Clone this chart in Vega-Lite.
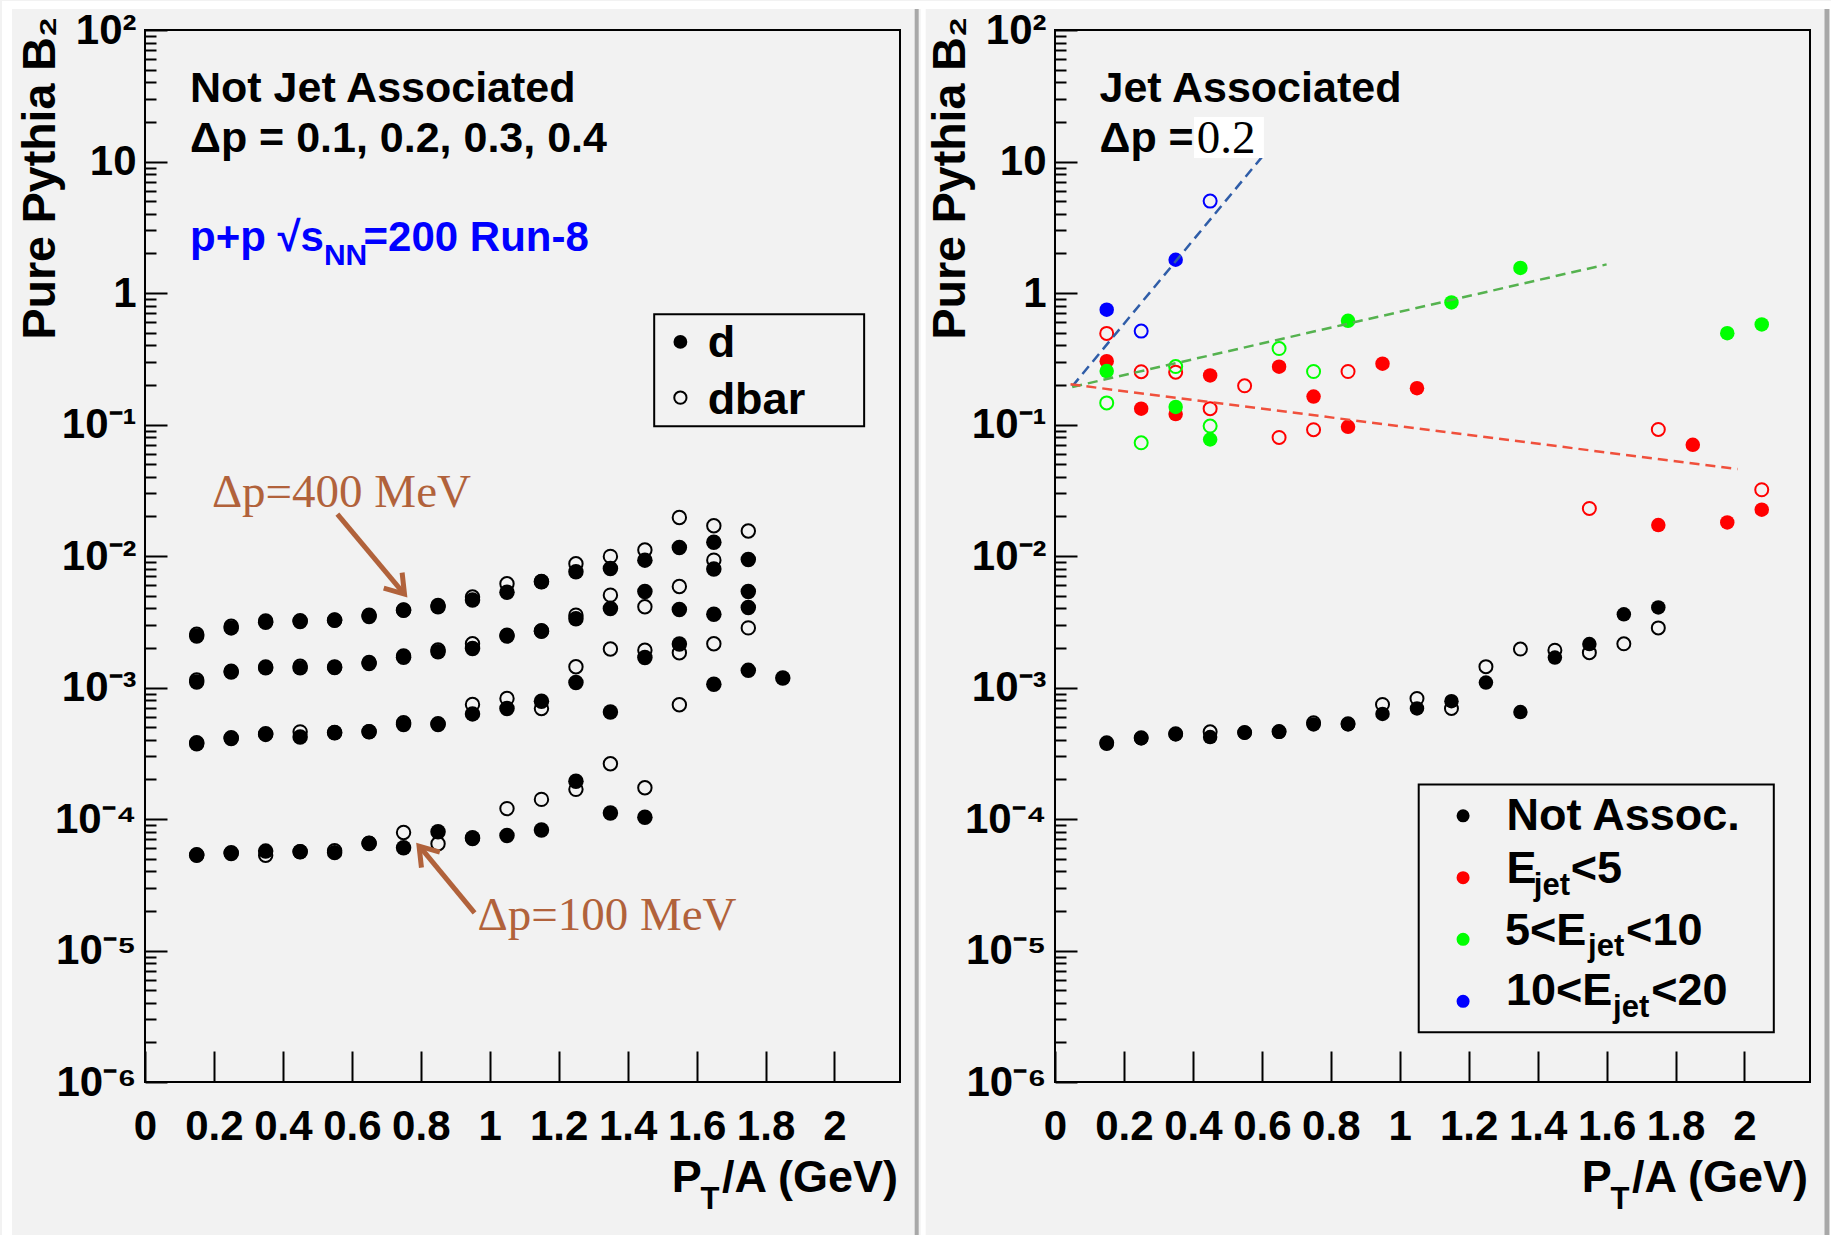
{
  "$schema": "https://vega.github.io/schema/vega-lite/v6.json",
  "background": "#f2f2f2",
  "padding": {"left": 0, "top": 0, "right": 0, "bottom": 0},
  "autosize": {"type": "pad"},
  "bounds": "flush",
  "spacing": 155,
  "config": {
    "view": {"stroke": "black", "strokeWidth": 2, "fill": "#f2f2f2"},
    "axis": {"domain": false, "grid": false, "labelFont": "Liberation Sans", "labelFontWeight": "bold", "labelFontSize": 42, "labelColor": "black", "tickColor": "black", "tickWidth": 2, "labelOverlap": false, "labelFlush": false, "labelBound": false, "titleFont": "Liberation Sans", "titleFontWeight": "bold", "titleColor": "black"},
    "axisX": {"labelPadding": 55},
    "axisY": {"labelPadding": 31}
  },
  "datasets": {
    "left": [
      {"x":0.15,"v":0.00254,"dp":"0.4","t":"dbar"},{"x":0.25,"v":0.00292,"dp":"0.4","t":"dbar"},{"x":0.35,"v":0.0032,"dp":"0.4","t":"dbar"},{"x":0.45,"v":0.00322,"dp":"0.4","t":"dbar"},{"x":0.55,"v":0.00326,"dp":"0.4","t":"dbar"},{"x":0.65,"v":0.00355,"dp":"0.4","t":"dbar"},{"x":0.75,"v":0.00388,"dp":"0.4","t":"dbar"},{"x":0.85,"v":0.0042,"dp":"0.4","t":"dbar"},{"x":0.95,"v":0.00488,"dp":"0.4","t":"dbar"},{"x":1.05,"v":0.00615,"dp":"0.4","t":"dbar"},{"x":1.15,"v":0.0064,"dp":"0.4","t":"dbar"},{"x":1.25,"v":0.00873,"dp":"0.4","t":"dbar"},{"x":1.35,"v":0.00993,"dp":"0.4","t":"dbar"},{"x":1.45,"v":0.0111,"dp":"0.4","t":"dbar"},{"x":1.55,"v":0.0196,"dp":"0.4","t":"dbar"},{"x":1.65,"v":0.017,"dp":"0.4","t":"dbar"},{"x":1.75,"v":0.0155,"dp":"0.4","t":"dbar"},
      {"x":0.15,"v":0.00246,"dp":"0.4","t":"d"},{"x":0.25,"v":0.00284,"dp":"0.4","t":"d"},{"x":0.35,"v":0.00314,"dp":"0.4","t":"d"},{"x":0.45,"v":0.00318,"dp":"0.4","t":"d"},{"x":0.55,"v":0.00324,"dp":"0.4","t":"d"},{"x":0.65,"v":0.00347,"dp":"0.4","t":"d"},{"x":0.75,"v":0.00386,"dp":"0.4","t":"d"},{"x":0.85,"v":0.00411,"dp":"0.4","t":"d"},{"x":0.95,"v":0.00462,"dp":"0.4","t":"d"},{"x":1.05,"v":0.00531,"dp":"0.4","t":"d"},{"x":1.15,"v":0.00637,"dp":"0.4","t":"d"},{"x":1.25,"v":0.00759,"dp":"0.4","t":"d"},{"x":1.35,"v":0.00804,"dp":"0.4","t":"d"},{"x":1.45,"v":0.0093,"dp":"0.4","t":"d"},{"x":1.55,"v":0.0116,"dp":"0.4","t":"d"},{"x":1.65,"v":0.0127,"dp":"0.4","t":"d"},{"x":1.75,"v":0.00942,"dp":"0.4","t":"d"},
      {"x":0.15,"v":0.00114,"dp":"0.3","t":"dbar"},{"x":0.25,"v":0.00133,"dp":"0.3","t":"dbar"},{"x":0.35,"v":0.00143,"dp":"0.3","t":"dbar"},{"x":0.45,"v":0.00145,"dp":"0.3","t":"dbar"},{"x":0.55,"v":0.00142,"dp":"0.3","t":"dbar"},{"x":0.65,"v":0.00155,"dp":"0.3","t":"dbar"},{"x":0.75,"v":0.00174,"dp":"0.3","t":"dbar"},{"x":0.85,"v":0.00193,"dp":"0.3","t":"dbar"},{"x":0.95,"v":0.00215,"dp":"0.3","t":"dbar"},{"x":1.05,"v":0.0025,"dp":"0.3","t":"dbar"},{"x":1.15,"v":0.0027,"dp":"0.3","t":"dbar"},{"x":1.25,"v":0.00355,"dp":"0.3","t":"dbar"},{"x":1.35,"v":0.00504,"dp":"0.3","t":"dbar"},{"x":1.45,"v":0.00411,"dp":"0.3","t":"dbar"},{"x":1.55,"v":0.00586,"dp":"0.3","t":"dbar"},{"x":1.65,"v":0.0093,"dp":"0.3","t":"dbar"},
      {"x":0.15,"v":0.0011,"dp":"0.3","t":"d"},{"x":0.25,"v":0.00131,"dp":"0.3","t":"d"},{"x":0.35,"v":0.00141,"dp":"0.3","t":"d"},{"x":0.45,"v":0.00141,"dp":"0.3","t":"d"},{"x":0.55,"v":0.00143,"dp":"0.3","t":"d"},{"x":0.65,"v":0.00152,"dp":"0.3","t":"d"},{"x":0.75,"v":0.0017,"dp":"0.3","t":"d"},{"x":0.85,"v":0.00187,"dp":"0.3","t":"d"},{"x":0.95,"v":0.00198,"dp":"0.3","t":"d"},{"x":1.05,"v":0.00246,"dp":"0.3","t":"d"},{"x":1.15,"v":0.00268,"dp":"0.3","t":"d"},{"x":1.25,"v":0.00333,"dp":"0.3","t":"d"},{"x":1.35,"v":0.00399,"dp":"0.3","t":"d"},{"x":1.45,"v":0.00537,"dp":"0.3","t":"d"},{"x":1.55,"v":0.00392,"dp":"0.3","t":"d"},{"x":1.65,"v":0.00795,"dp":"0.3","t":"d"},{"x":1.75,"v":0.00537,"dp":"0.3","t":"d"},
      {"x":0.15,"v":0.00038,"dp":"0.2","t":"dbar"},{"x":0.25,"v":0.000415,"dp":"0.2","t":"dbar"},{"x":0.35,"v":0.000445,"dp":"0.2","t":"dbar"},{"x":0.45,"v":0.00046,"dp":"0.2","t":"dbar"},{"x":0.55,"v":0.000455,"dp":"0.2","t":"dbar"},{"x":0.65,"v":0.000462,"dp":"0.2","t":"dbar"},{"x":0.75,"v":0.00054,"dp":"0.2","t":"dbar"},{"x":0.85,"v":0.00053,"dp":"0.2","t":"dbar"},{"x":0.95,"v":0.000743,"dp":"0.2","t":"dbar"},{"x":1.05,"v":0.000825,"dp":"0.2","t":"dbar"},{"x":1.15,"v":0.000693,"dp":"0.2","t":"dbar"},{"x":1.25,"v":0.00144,"dp":"0.2","t":"dbar"},{"x":1.35,"v":0.00196,"dp":"0.2","t":"dbar"},{"x":1.45,"v":0.00192,"dp":"0.2","t":"dbar"},{"x":1.55,"v":0.00184,"dp":"0.2","t":"dbar"},{"x":1.65,"v":0.00215,"dp":"0.2","t":"dbar"},{"x":1.75,"v":0.00284,"dp":"0.2","t":"dbar"},
      {"x":0.15,"v":0.000373,"dp":"0.2","t":"d"},{"x":0.25,"v":0.00041,"dp":"0.2","t":"d"},{"x":0.35,"v":0.00044,"dp":"0.2","t":"d"},{"x":0.45,"v":0.00042,"dp":"0.2","t":"d"},{"x":0.55,"v":0.000453,"dp":"0.2","t":"d"},{"x":0.65,"v":0.00046,"dp":"0.2","t":"d"},{"x":0.75,"v":0.000524,"dp":"0.2","t":"d"},{"x":0.85,"v":0.000524,"dp":"0.2","t":"d"},{"x":0.95,"v":0.00063,"dp":"0.2","t":"d"},{"x":1.05,"v":0.000693,"dp":"0.2","t":"d"},{"x":1.15,"v":0.000787,"dp":"0.2","t":"d"},{"x":1.25,"v":0.00109,"dp":"0.2","t":"d"},{"x":1.35,"v":0.00065,"dp":"0.2","t":"d"},{"x":1.45,"v":0.00169,"dp":"0.2","t":"d"},{"x":1.55,"v":0.00214,"dp":"0.2","t":"d"},{"x":1.65,"v":0.0036,"dp":"0.2","t":"d"},{"x":1.75,"v":0.00406,"dp":"0.2","t":"d"},
      {"x":0.15,"v":0.0000535,"dp":"0.1","t":"dbar"},{"x":0.25,"v":0.0000555,"dp":"0.1","t":"dbar"},{"x":0.35,"v":0.000053,"dp":"0.1","t":"dbar"},{"x":0.45,"v":0.0000565,"dp":"0.1","t":"dbar"},{"x":0.55,"v":0.0000575,"dp":"0.1","t":"dbar"},{"x":0.65,"v":0.0000655,"dp":"0.1","t":"dbar"},{"x":0.75,"v":0.000079,"dp":"0.1","t":"dbar"},{"x":0.85,"v":0.0000648,"dp":"0.1","t":"dbar"},{"x":0.95,"v":0.000071,"dp":"0.1","t":"dbar"},{"x":1.05,"v":0.00012,"dp":"0.1","t":"dbar"},{"x":1.15,"v":0.000141,"dp":"0.1","t":"dbar"},{"x":1.25,"v":0.000168,"dp":"0.1","t":"dbar"},{"x":1.35,"v":0.000263,"dp":"0.1","t":"dbar"},{"x":1.45,"v":0.000173,"dp":"0.1","t":"dbar"},{"x":1.55,"v":0.000739,"dp":"0.1","t":"dbar"},
      {"x":0.15,"v":0.0000529,"dp":"0.1","t":"d"},{"x":0.25,"v":0.0000547,"dp":"0.1","t":"d"},{"x":0.35,"v":0.000057,"dp":"0.1","t":"d"},{"x":0.45,"v":0.0000563,"dp":"0.1","t":"d"},{"x":0.55,"v":0.0000555,"dp":"0.1","t":"d"},{"x":0.65,"v":0.0000652,"dp":"0.1","t":"d"},{"x":0.75,"v":0.0000604,"dp":"0.1","t":"d"},{"x":0.85,"v":0.00008,"dp":"0.1","t":"d"},{"x":0.95,"v":0.000072,"dp":"0.1","t":"d"},{"x":1.05,"v":0.000075,"dp":"0.1","t":"d"},{"x":1.15,"v":0.0000824,"dp":"0.1","t":"d"},{"x":1.25,"v":0.000194,"dp":"0.1","t":"d"},{"x":1.35,"v":0.000111,"dp":"0.1","t":"d"},{"x":1.45,"v":0.000103,"dp":"0.1","t":"d"},{"x":1.65,"v":0.00106,"dp":"0.1","t":"d"},{"x":1.75,"v":0.00135,"dp":"0.1","t":"d"},{"x":1.85,"v":0.00118,"dp":"0.1","t":"d"}
    ],
    "right": [
      {"x":0.15,"v":0.00038,"cat":"Not Assoc.","t":"dbar"},{"x":0.25,"v":0.000415,"cat":"Not Assoc.","t":"dbar"},{"x":0.35,"v":0.000445,"cat":"Not Assoc.","t":"dbar"},{"x":0.45,"v":0.00046,"cat":"Not Assoc.","t":"dbar"},{"x":0.55,"v":0.000455,"cat":"Not Assoc.","t":"dbar"},{"x":0.65,"v":0.000462,"cat":"Not Assoc.","t":"dbar"},{"x":0.75,"v":0.00054,"cat":"Not Assoc.","t":"dbar"},{"x":0.85,"v":0.00053,"cat":"Not Assoc.","t":"dbar"},{"x":0.95,"v":0.000743,"cat":"Not Assoc.","t":"dbar"},{"x":1.05,"v":0.000825,"cat":"Not Assoc.","t":"dbar"},{"x":1.15,"v":0.000693,"cat":"Not Assoc.","t":"dbar"},{"x":1.25,"v":0.00144,"cat":"Not Assoc.","t":"dbar"},{"x":1.35,"v":0.00196,"cat":"Not Assoc.","t":"dbar"},{"x":1.45,"v":0.00192,"cat":"Not Assoc.","t":"dbar"},{"x":1.55,"v":0.00184,"cat":"Not Assoc.","t":"dbar"},{"x":1.65,"v":0.00215,"cat":"Not Assoc.","t":"dbar"},{"x":1.75,"v":0.00284,"cat":"Not Assoc.","t":"dbar"},
      {"x":0.15,"v":0.000373,"cat":"Not Assoc.","t":"d"},{"x":0.25,"v":0.00041,"cat":"Not Assoc.","t":"d"},{"x":0.35,"v":0.00044,"cat":"Not Assoc.","t":"d"},{"x":0.45,"v":0.00042,"cat":"Not Assoc.","t":"d"},{"x":0.55,"v":0.000453,"cat":"Not Assoc.","t":"d"},{"x":0.65,"v":0.00046,"cat":"Not Assoc.","t":"d"},{"x":0.75,"v":0.000524,"cat":"Not Assoc.","t":"d"},{"x":0.85,"v":0.000524,"cat":"Not Assoc.","t":"d"},{"x":0.95,"v":0.00063,"cat":"Not Assoc.","t":"d"},{"x":1.05,"v":0.000693,"cat":"Not Assoc.","t":"d"},{"x":1.15,"v":0.000787,"cat":"Not Assoc.","t":"d"},{"x":1.25,"v":0.00109,"cat":"Not Assoc.","t":"d"},{"x":1.35,"v":0.00065,"cat":"Not Assoc.","t":"d"},{"x":1.45,"v":0.00169,"cat":"Not Assoc.","t":"d"},{"x":1.55,"v":0.00214,"cat":"Not Assoc.","t":"d"},{"x":1.65,"v":0.0036,"cat":"Not Assoc.","t":"d"},{"x":1.75,"v":0.00406,"cat":"Not Assoc.","t":"d"},
      {"x":0.15,"v":0.493,"cat":"Ejet<5","t":"dbar"},{"x":0.25,"v":0.252,"cat":"Ejet<5","t":"dbar"},{"x":0.35,"v":0.25,"cat":"Ejet<5","t":"dbar"},{"x":0.45,"v":0.132,"cat":"Ejet<5","t":"dbar"},{"x":0.55,"v":0.197,"cat":"Ejet<5","t":"dbar"},{"x":0.65,"v":0.0797,"cat":"Ejet<5","t":"dbar"},{"x":0.75,"v":0.0913,"cat":"Ejet<5","t":"dbar"},{"x":0.85,"v":0.253,"cat":"Ejet<5","t":"dbar"},{"x":1.55,"v":0.023,"cat":"Ejet<5","t":"dbar"},{"x":1.75,"v":0.0917,"cat":"Ejet<5","t":"dbar"},{"x":2.05,"v":0.0319,"cat":"Ejet<5","t":"dbar"},
      {"x":0.15,"v":0.303,"cat":"Ejet<5","t":"d"},{"x":0.25,"v":0.132,"cat":"Ejet<5","t":"d"},{"x":0.35,"v":0.12,"cat":"Ejet<5","t":"d"},{"x":0.45,"v":0.236,"cat":"Ejet<5","t":"d"},{"x":0.65,"v":0.275,"cat":"Ejet<5","t":"d"},{"x":0.75,"v":0.163,"cat":"Ejet<5","t":"d"},{"x":0.85,"v":0.0961,"cat":"Ejet<5","t":"d"},{"x":0.95,"v":0.29,"cat":"Ejet<5","t":"d"},{"x":1.05,"v":0.189,"cat":"Ejet<5","t":"d"},{"x":1.75,"v":0.0172,"cat":"Ejet<5","t":"d"},{"x":1.85,"v":0.0701,"cat":"Ejet<5","t":"d"},{"x":1.95,"v":0.018,"cat":"Ejet<5","t":"d"},{"x":2.05,"v":0.0225,"cat":"Ejet<5","t":"d"},
      {"x":0.15,"v":0.146,"cat":"5<Ejet<10","t":"dbar"},{"x":0.25,"v":0.0726,"cat":"5<Ejet<10","t":"dbar"},{"x":0.35,"v":0.276,"cat":"5<Ejet<10","t":"dbar"},{"x":0.45,"v":0.0973,"cat":"5<Ejet<10","t":"dbar"},{"x":0.65,"v":0.378,"cat":"5<Ejet<10","t":"dbar"},{"x":0.75,"v":0.253,"cat":"5<Ejet<10","t":"dbar"},
      {"x":0.15,"v":0.255,"cat":"5<Ejet<10","t":"d"},{"x":0.35,"v":0.136,"cat":"5<Ejet<10","t":"d"},{"x":0.45,"v":0.0769,"cat":"5<Ejet<10","t":"d"},{"x":0.85,"v":0.615,"cat":"5<Ejet<10","t":"d"},{"x":1.15,"v":0.847,"cat":"5<Ejet<10","t":"d"},{"x":1.35,"v":1.55,"cat":"5<Ejet<10","t":"d"},{"x":1.95,"v":0.495,"cat":"5<Ejet<10","t":"d"},{"x":2.05,"v":0.577,"cat":"5<Ejet<10","t":"d"},
      {"x":0.25,"v":0.513,"cat":"10<Ejet<20","t":"dbar"},{"x":0.45,"v":5.0,"cat":"10<Ejet<20","t":"dbar"},
      {"x":0.15,"v":0.746,"cat":"10<Ejet<20","t":"d"},{"x":0.35,"v":1.79,"cat":"10<Ejet<20","t":"d"}
    ],
    "fits": [
      {"fit":"10<Ejet<20","x":0.05,"v":0.195},{"fit":"10<Ejet<20","x":0.6,"v":10.8},
      {"fit":"5<Ejet<10","x":0.05,"v":0.193},{"fit":"5<Ejet<10","x":1.6,"v":1.65},
      {"fit":"Ejet<5","x":0.045,"v":0.202},{"fit":"Ejet<5","x":1.98,"v":0.0458}
    ]
  },
  "hconcat": [
    {
      "width": 755,
      "height": 1052,
      "layer": [
        {
          "data": {"name": "left"},
          "transform": [{"filter": "datum.t == 'dbar'"}],
          "mark": {"type": "point", "shape": "circle", "filled": false, "size": 180, "strokeWidth": 2, "opacity": 1, "color": "black"},
          "encoding": {
            "x": {"field": "x", "type": "quantitative", "scale": {"domain": [0, 2.19], "nice": false, "zero": false},
              "axis": {"values": [0,0.05,0.1,0.15,0.2,0.25,0.3,0.35,0.4,0.45,0.5,0.55,0.6,0.65,0.7,0.75,0.8,0.85,0.9,0.95,1,1.05,1.1,1.15,1.2,1.25,1.3,1.35,1.4,1.45,1.5,1.55,1.6,1.65,1.7,1.75,1.8,1.85,1.9,1.95,2,2.05,2.1,2.15],
                "format": "~g",
                "tickSize": {"condition": {"test": "abs(datum.value*5 - round(datum.value*5)) < 0.001", "value": -31}, "value": -16},
                "labelExpr": "abs(datum.value*5 - round(datum.value*5)) < 0.001 ? datum.label : ''",
                "title": null}},
            "y": {"field": "v", "type": "quantitative", "scale": {"type": "log", "domain": [0.000001, 100], "nice": false},
              "axis": {"values": [1e-6,2e-6,3e-6,4e-6,5e-6,6e-6,7e-6,8e-6,9e-6,1e-5,2e-5,3e-5,4e-5,5e-5,6e-5,7e-5,8e-5,9e-5,1e-4,2e-4,3e-4,4e-4,5e-4,6e-4,7e-4,8e-4,9e-4,0.001,0.002,0.003,0.004,0.005,0.006,0.007,0.008,0.009,0.01,0.02,0.03,0.04,0.05,0.06,0.07,0.08,0.09,0.1,0.2,0.3,0.4,0.5,0.6,0.7,0.8,0.9,1,2,3,4,5,6,7,8,9,10,20,30,40,50,60,70,80,90,100],
                "tickSize": {"condition": {"test": "abs(log(datum.value)/LN10 - round(log(datum.value)/LN10)) < 0.001", "value": -22}, "value": -11},
                "labelExpr": "abs(log(datum.value)/LN10 - round(log(datum.value)/LN10)) < 0.001 ? ['10⁻⁶','10⁻⁵','10⁻⁴','10⁻³','10⁻²','10⁻¹','1','10','10²'][round(log(datum.value)/LN10)+6] : ''",
                "title": "Pure Pythia B₂", "titleFontSize": 46.5, "titleAngle": 270, "titleAlign": "left", "titleBaseline": "alphabetic", "titleX": -91, "titleY": 309}}
          }
        },
        {
          "data": {"name": "left"},
          "transform": [{"filter": "datum.t == 'd'"}],
          "mark": {"type": "point", "shape": "circle", "filled": true, "size": 240, "opacity": 1, "color": "black"},
          "encoding": {"x": {"field": "x", "type": "quantitative"}, "y": {"field": "v", "type": "quantitative"}}
        },
        {"data": {"values": [{}]}, "mark": {"type": "text", "text": "Not Jet Associated", "align": "left", "baseline": "alphabetic", "font": "Liberation Sans", "fontWeight": "bold", "fontSize": 43, "color": "black"},
          "encoding": {"x": {"datum": 0.1305, "type": "quantitative"}, "y": {"datum": 28.4, "type": "quantitative"}}},
        {"data": {"values": [{}]}, "mark": {"type": "text", "text": "Δp = 0.1, 0.2, 0.3, 0.4", "align": "left", "baseline": "alphabetic", "font": "Liberation Sans", "fontWeight": "bold", "fontSize": 43, "color": "black"},
          "encoding": {"x": {"datum": 0.1305, "type": "quantitative"}, "y": {"datum": 11.79, "type": "quantitative"}}},
        {"data": {"values": [{}]}, "mark": {"type": "text", "text": "p+p √s", "align": "left", "baseline": "alphabetic", "font": "Liberation Sans", "fontWeight": "bold", "fontSize": 42, "color": "#0000ff"},
          "encoding": {"x": {"datum": 0.1305, "type": "quantitative"}, "y": {"datum": 2.086, "type": "quantitative"}}},
        {"data": {"values": [{}]}, "mark": {"type": "text", "text": "NN", "align": "left", "baseline": "alphabetic", "font": "Liberation Sans", "fontWeight": "bold", "fontSize": 30, "color": "#0000ff"},
          "encoding": {"x": {"datum": 0.519, "type": "quantitative"}, "y": {"datum": 1.63, "type": "quantitative"}}},
        {"data": {"values": [{}]}, "mark": {"type": "text", "text": "=200 Run-8", "align": "left", "baseline": "alphabetic", "font": "Liberation Sans", "fontWeight": "bold", "fontSize": 42, "color": "#0000ff"},
          "encoding": {"x": {"datum": 0.634, "type": "quantitative"}, "y": {"datum": 2.086, "type": "quantitative"}}},
        {"data": {"values": [{}]}, "mark": {"type": "rect", "fill": "#f2f2f2", "stroke": "black", "strokeWidth": 2},
          "encoding": {"x": {"datum": 1.477, "type": "quantitative"}, "x2": {"datum": 2.086}, "y": {"datum": 0.689, "type": "quantitative"}, "y2": {"datum": 0.097}}},
        {"data": {"values": [{}]}, "mark": {"type": "point", "shape": "circle", "filled": true, "size": 190, "opacity": 1, "color": "black"},
          "encoding": {"x": {"datum": 1.553, "type": "quantitative"}, "y": {"datum": 0.4246, "type": "quantitative"}}},
        {"data": {"values": [{}]}, "mark": {"type": "point", "shape": "circle", "filled": false, "size": 150, "strokeWidth": 2, "opacity": 1, "color": "black"},
          "encoding": {"x": {"datum": 1.553, "type": "quantitative"}, "y": {"datum": 0.16, "type": "quantitative"}}},
        {"data": {"values": [{}]}, "mark": {"type": "text", "text": "d", "align": "left", "baseline": "alphabetic", "font": "Liberation Sans", "fontWeight": "bold", "fontSize": 45, "color": "black"},
          "encoding": {"x": {"datum": 1.632, "type": "quantitative"}, "y": {"datum": 0.326, "type": "quantitative"}}},
        {"data": {"values": [{}]}, "mark": {"type": "text", "text": "dbar", "align": "left", "baseline": "alphabetic", "font": "Liberation Sans", "fontWeight": "bold", "fontSize": 45, "color": "black"},
          "encoding": {"x": {"datum": 1.632, "type": "quantitative"}, "y": {"datum": 0.1196, "type": "quantitative"}}},
        {"data": {"values": [{}]}, "mark": {"type": "text", "text": "Δp=400 MeV", "align": "left", "baseline": "alphabetic", "font": "Liberation Serif", "fontSize": 47, "color": "#b1623b"},
          "encoding": {"x": {"datum": 0.194, "type": "quantitative"}, "y": {"datum": 0.02355, "type": "quantitative"}}},
        {"data": {"values": [{}]}, "mark": {"type": "text", "text": "Δp=100 MeV", "align": "left", "baseline": "alphabetic", "font": "Liberation Serif", "fontSize": 47, "color": "#b1623b"},
          "encoding": {"x": {"datum": 0.9643, "type": "quantitative"}, "y": {"datum": 0.00001432, "type": "quantitative"}}},
        {"data": {"values": [{}]}, "mark": {"type": "rule", "color": "#b1623b", "strokeWidth": 5},
          "encoding": {"x": {"datum": 0.558, "type": "quantitative"}, "x2": {"datum": 0.745}, "y": {"datum": 0.02084, "type": "quantitative"}, "y2": {"datum": 0.0054}}},
        {"data": {"values": [{}]}, "mark": {"type": "point", "shape": "M-0.6,0.9L0,0L0.6,0.9", "size": 1600, "angle": 140, "filled": false, "strokeWidth": 5, "opacity": 1, "color": "#b1623b"},
          "encoding": {"x": {"datum": 0.7527, "type": "quantitative"}, "y": {"datum": 0.00513, "type": "quantitative"}}},
        {"data": {"values": [{}]}, "mark": {"type": "rule", "color": "#b1623b", "strokeWidth": 5},
          "encoding": {"x": {"datum": 0.956, "type": "quantitative"}, "x2": {"datum": 0.802}, "y": {"datum": 0.0000193, "type": "quantitative"}, "y2": {"datum": 0.0000595}}},
        {"data": {"values": [{}]}, "mark": {"type": "point", "shape": "M-0.6,0.9L0,0L0.6,0.9", "size": 1600, "angle": 320, "filled": false, "strokeWidth": 5, "opacity": 1, "color": "#b1623b"},
          "encoding": {"x": {"datum": 0.795, "type": "quantitative"}, "y": {"datum": 0.0000622, "type": "quantitative"}}},
        {"data": {"values": [{}]}, "mark": {"type": "text", "text": "P", "align": "left", "baseline": "alphabetic", "font": "Liberation Sans", "fontWeight": "bold", "fontSize": 45, "color": "black"},
          "encoding": {"x": {"datum": 1.528, "type": "quantitative"}, "y": {"datum": 1.447e-7, "type": "quantitative"}}},
        {"data": {"values": [{}]}, "mark": {"type": "text", "text": "T", "align": "left", "baseline": "alphabetic", "font": "Liberation Sans", "fontWeight": "bold", "fontSize": 31, "color": "black"},
          "encoding": {"x": {"datum": 1.611, "type": "quantitative"}, "y": {"datum": 1.089e-7, "type": "quantitative"}}},
        {"data": {"values": [{}]}, "mark": {"type": "text", "text": "/A (GeV)", "align": "right", "baseline": "alphabetic", "font": "Liberation Sans", "fontWeight": "bold", "fontSize": 45, "color": "black"},
          "encoding": {"x": {"datum": 2.184, "type": "quantitative"}, "y": {"datum": 1.447e-7, "type": "quantitative"}}},
        {"data": {"values": [{}]}, "mark": {"type": "rect", "fill": "white"},
          "encoding": {"x": {"datum": -0.4148, "type": "quantitative"}, "x2": {"datum": 4.8963}, "y": {"datum": 165.9, "type": "quantitative"}, "y2": {"datum": 144.2}}},
        {"data": {"values": [{}]}, "mark": {"type": "rect", "fill": "white"},
          "encoding": {"x": {"datum": -0.4148, "type": "quantitative"}, "x2": {"datum": -0.3858}, "y": {"datum": 165.9, "type": "quantitative"}, "y2": {"datum": 6.73e-8}}},
        {"data": {"values": [{}]}, "mark": {"type": "rect", "fill": "white"},
          "encoding": {"x": {"datum": 2.25, "type": "quantitative"}, "x2": {"datum": 2.2645}, "y": {"datum": 165.9, "type": "quantitative"}, "y2": {"datum": 6.73e-8}}},
        {"data": {"values": [{}]}, "mark": {"type": "rule", "color": "#a8a8a8", "strokeWidth": 4},
          "encoding": {"x": {"datum": 2.2384, "type": "quantitative"}, "y": {"datum": 144.2, "type": "quantitative"}, "y2": {"datum": 6.73e-8}}}
      ]
    },
    {
      "width": 755,
      "height": 1052,
      "layer": [
        {
          "data": {"name": "right"},
          "transform": [{"filter": "datum.t == 'dbar'"}],
          "mark": {"type": "point", "shape": "circle", "filled": false, "size": 169, "strokeWidth": 2, "opacity": 1},
          "encoding": {
            "x": {"field": "x", "type": "quantitative", "scale": {"domain": [0, 2.19], "nice": false, "zero": false},
              "axis": {"values": [0,0.05,0.1,0.15,0.2,0.25,0.3,0.35,0.4,0.45,0.5,0.55,0.6,0.65,0.7,0.75,0.8,0.85,0.9,0.95,1,1.05,1.1,1.15,1.2,1.25,1.3,1.35,1.4,1.45,1.5,1.55,1.6,1.65,1.7,1.75,1.8,1.85,1.9,1.95,2,2.05,2.1,2.15],
                "format": "~g",
                "tickSize": {"condition": {"test": "abs(datum.value*5 - round(datum.value*5)) < 0.001", "value": -31}, "value": -16},
                "labelExpr": "abs(datum.value*5 - round(datum.value*5)) < 0.001 ? datum.label : ''",
                "title": null}},
            "y": {"field": "v", "type": "quantitative", "scale": {"type": "log", "domain": [0.000001, 100], "nice": false},
              "axis": {"values": [1e-6,2e-6,3e-6,4e-6,5e-6,6e-6,7e-6,8e-6,9e-6,1e-5,2e-5,3e-5,4e-5,5e-5,6e-5,7e-5,8e-5,9e-5,1e-4,2e-4,3e-4,4e-4,5e-4,6e-4,7e-4,8e-4,9e-4,0.001,0.002,0.003,0.004,0.005,0.006,0.007,0.008,0.009,0.01,0.02,0.03,0.04,0.05,0.06,0.07,0.08,0.09,0.1,0.2,0.3,0.4,0.5,0.6,0.7,0.8,0.9,1,2,3,4,5,6,7,8,9,10,20,30,40,50,60,70,80,90,100],
                "tickSize": {"condition": {"test": "abs(log(datum.value)/LN10 - round(log(datum.value)/LN10)) < 0.001", "value": -22}, "value": -11},
                "labelExpr": "abs(log(datum.value)/LN10 - round(log(datum.value)/LN10)) < 0.001 ? ['10⁻⁶','10⁻⁵','10⁻⁴','10⁻³','10⁻²','10⁻¹','1','10','10²'][round(log(datum.value)/LN10)+6] : ''",
                "title": "Pure Pythia B₂", "titleFontSize": 46.5, "titleAngle": 270, "titleAlign": "left", "titleBaseline": "alphabetic", "titleX": -91, "titleY": 309}},
            "color": {"field": "cat", "type": "nominal", "scale": {"domain": ["Not Assoc.", "Ejet<5", "5<Ejet<10", "10<Ejet<20"], "range": ["#000000", "#ff0000", "#00ff00", "#0000ff"]}, "legend": null}
          }
        },
        {
          "data": {"name": "right"},
          "transform": [{"filter": "datum.t == 'd'"}],
          "mark": {"type": "point", "shape": "circle", "filled": true, "size": 210, "opacity": 1},
          "encoding": {"x": {"field": "x", "type": "quantitative"}, "y": {"field": "v", "type": "quantitative"},
            "color": {"field": "cat", "type": "nominal", "legend": null}}
        },
        {
          "data": {"name": "fits"},
          "mark": {"type": "line", "strokeWidth": 2.5, "strokeDash": [10, 6]},
          "encoding": {"x": {"field": "x", "type": "quantitative"}, "y": {"field": "v", "type": "quantitative"},
            "stroke": {"field": "fit", "type": "nominal", "scale": {"domain": ["Ejet<5", "5<Ejet<10", "10<Ejet<20"], "range": ["#f0503c", "#55b24f", "#2f5da8"]}, "legend": null}}
        },
        {"data": {"values": [{}]}, "mark": {"type": "rect", "fill": "white"},
          "encoding": {"x": {"datum": 0.403, "type": "quantitative"}, "x2": {"datum": 0.606}, "y": {"datum": 21.76, "type": "quantitative"}, "y2": {"datum": 10.61}}},
        {"data": {"values": [{}]}, "mark": {"type": "text", "text": "Jet Associated", "align": "left", "baseline": "alphabetic", "font": "Liberation Sans", "fontWeight": "bold", "fontSize": 43, "color": "black"},
          "encoding": {"x": {"datum": 0.129, "type": "quantitative"}, "y": {"datum": 28.4, "type": "quantitative"}}},
        {"data": {"values": [{}]}, "mark": {"type": "text", "text": "Δp =", "align": "left", "baseline": "alphabetic", "font": "Liberation Sans", "fontWeight": "bold", "fontSize": 43, "color": "black"},
          "encoding": {"x": {"datum": 0.129, "type": "quantitative"}, "y": {"datum": 11.79, "type": "quantitative"}}},
        {"data": {"values": [{}]}, "mark": {"type": "text", "text": "0.2", "align": "left", "baseline": "alphabetic", "font": "Liberation Serif", "fontSize": 47, "color": "black"},
          "encoding": {"x": {"datum": 0.411, "type": "quantitative"}, "y": {"datum": 11.59, "type": "quantitative"}}},
        {"data": {"values": [{}]}, "mark": {"type": "rect", "fill": "#f2f2f2", "stroke": "black", "strokeWidth": 2},
          "encoding": {"x": {"datum": 1.055, "type": "quantitative"}, "x2": {"datum": 2.085}, "y": {"datum": 0.000183, "type": "quantitative"}, "y2": {"datum": 0.00000239}}},
        {"data": {"values": [{}]}, "mark": {"type": "point", "shape": "circle", "filled": true, "size": 170, "opacity": 1, "color": "#000000"},
          "encoding": {"x": {"datum": 1.1837, "type": "quantitative"}, "y": {"datum": 0.0001057, "type": "quantitative"}}},
        {"data": {"values": [{}]}, "mark": {"type": "point", "shape": "circle", "filled": true, "size": 170, "opacity": 1, "color": "#ff0000"},
          "encoding": {"x": {"datum": 1.1837, "type": "quantitative"}, "y": {"datum": 0.0000358, "type": "quantitative"}}},
        {"data": {"values": [{}]}, "mark": {"type": "point", "shape": "circle", "filled": true, "size": 170, "opacity": 1, "color": "#00ff00"},
          "encoding": {"x": {"datum": 1.1837, "type": "quantitative"}, "y": {"datum": 0.00001217, "type": "quantitative"}}},
        {"data": {"values": [{}]}, "mark": {"type": "point", "shape": "circle", "filled": true, "size": 170, "opacity": 1, "color": "#0000ff"},
          "encoding": {"x": {"datum": 1.1837, "type": "quantitative"}, "y": {"datum": 0.00000411, "type": "quantitative"}}},
        {"data": {"values": [{}]}, "mark": {"type": "text", "text": "Not Assoc.", "align": "left", "baseline": "alphabetic", "font": "Liberation Sans", "fontWeight": "bold", "fontSize": 45, "color": "black"},
          "encoding": {"x": {"datum": 1.3094, "type": "quantitative"}, "y": {"datum": 0.0000826, "type": "quantitative"}}},
        {"data": {"values": [{}]}, "mark": {"type": "text", "text": "E", "align": "left", "baseline": "alphabetic", "font": "Liberation Sans", "fontWeight": "bold", "fontSize": 45, "color": "black"},
          "encoding": {"x": {"datum": 1.3094, "type": "quantitative"}, "y": {"datum": 0.0000324, "type": "quantitative"}}},
        {"data": {"values": [{}]}, "mark": {"type": "text", "text": "jet", "align": "left", "baseline": "alphabetic", "font": "Liberation Sans", "fontWeight": "bold", "fontSize": 31, "color": "black"},
          "encoding": {"x": {"datum": 1.389, "type": "quantitative"}, "y": {"datum": 0.0000265, "type": "quantitative"}}},
        {"data": {"values": [{}]}, "mark": {"type": "text", "text": "<5", "align": "left", "baseline": "alphabetic", "font": "Liberation Sans", "fontWeight": "bold", "fontSize": 45, "color": "black"},
          "encoding": {"x": {"datum": 1.4958, "type": "quantitative"}, "y": {"datum": 0.0000324, "type": "quantitative"}}},
        {"data": {"values": [{}]}, "mark": {"type": "text", "text": "5<E", "align": "left", "baseline": "alphabetic", "font": "Liberation Sans", "fontWeight": "bold", "fontSize": 45, "color": "black"},
          "encoding": {"x": {"datum": 1.3054, "type": "quantitative"}, "y": {"datum": 0.00001109, "type": "quantitative"}}},
        {"data": {"values": [{}]}, "mark": {"type": "text", "text": "jet", "align": "left", "baseline": "alphabetic", "font": "Liberation Sans", "fontWeight": "bold", "fontSize": 31, "color": "black"},
          "encoding": {"x": {"datum": 1.5463, "type": "quantitative"}, "y": {"datum": 0.00000908, "type": "quantitative"}}},
        {"data": {"values": [{}]}, "mark": {"type": "text", "text": "<10", "align": "left", "baseline": "alphabetic", "font": "Liberation Sans", "fontWeight": "bold", "fontSize": 45, "color": "black"},
          "encoding": {"x": {"datum": 1.6566, "type": "quantitative"}, "y": {"datum": 0.00001109, "type": "quantitative"}}},
        {"data": {"values": [{}]}, "mark": {"type": "text", "text": "10<E", "align": "left", "baseline": "alphabetic", "font": "Liberation Sans", "fontWeight": "bold", "fontSize": 45, "color": "black"},
          "encoding": {"x": {"datum": 1.3083, "type": "quantitative"}, "y": {"datum": 0.00000383, "type": "quantitative"}}},
        {"data": {"values": [{}]}, "mark": {"type": "text", "text": "jet", "align": "left", "baseline": "alphabetic", "font": "Liberation Sans", "fontWeight": "bold", "fontSize": 31, "color": "black"},
          "encoding": {"x": {"datum": 1.6189, "type": "quantitative"}, "y": {"datum": 0.00000313, "type": "quantitative"}}},
        {"data": {"values": [{}]}, "mark": {"type": "text", "text": "<20", "align": "left", "baseline": "alphabetic", "font": "Liberation Sans", "fontWeight": "bold", "fontSize": 45, "color": "black"},
          "encoding": {"x": {"datum": 1.7292, "type": "quantitative"}, "y": {"datum": 0.00000383, "type": "quantitative"}}},
        {"data": {"values": [{}]}, "mark": {"type": "text", "text": "P", "align": "left", "baseline": "alphabetic", "font": "Liberation Sans", "fontWeight": "bold", "fontSize": 45, "color": "black"},
          "encoding": {"x": {"datum": 1.528, "type": "quantitative"}, "y": {"datum": 1.447e-7, "type": "quantitative"}}},
        {"data": {"values": [{}]}, "mark": {"type": "text", "text": "T", "align": "left", "baseline": "alphabetic", "font": "Liberation Sans", "fontWeight": "bold", "fontSize": 31, "color": "black"},
          "encoding": {"x": {"datum": 1.611, "type": "quantitative"}, "y": {"datum": 1.089e-7, "type": "quantitative"}}},
        {"data": {"values": [{}]}, "mark": {"type": "text", "text": "/A (GeV)", "align": "right", "baseline": "alphabetic", "font": "Liberation Sans", "fontWeight": "bold", "fontSize": 45, "color": "black"},
          "encoding": {"x": {"datum": 2.184, "type": "quantitative"}, "y": {"datum": 1.447e-7, "type": "quantitative"}}},
        {"data": {"values": [{}]}, "mark": {"type": "rule", "color": "#a8a8a8", "strokeWidth": 5},
          "encoding": {"x": {"datum": 2.2393, "type": "quantitative"}, "y": {"datum": 144.2, "type": "quantitative"}, "y2": {"datum": 6.73e-8}}},
        {"data": {"values": [{}]}, "mark": {"type": "rect", "fill": "white"},
          "encoding": {"x": {"datum": 2.2475, "type": "quantitative"}, "x2": {"datum": 2.2567}, "y": {"datum": 165.9, "type": "quantitative"}, "y2": {"datum": 6.73e-8}}}
      ]
    }
  ]
}
